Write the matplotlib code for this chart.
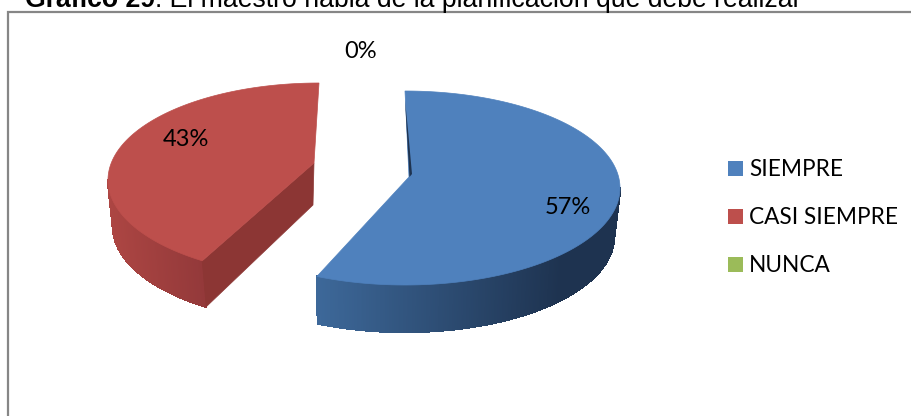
import numpy as np
import matplotlib
matplotlib.use("Agg")
import matplotlib.pyplot as plt
from matplotlib.collections import PolyCollection
from matplotlib.patches import Polygon, Rectangle

# Chart data
categories = ["SIEMPRE", "CASI SIEMPRE", "NUNCA"]
values = [57, 43, 0]
value_labels = ["57%", "43%", "0%"]
colors = ["#4f81bd", "#bd4f4c", "#9bbb59"]

title_bold = "Gráfico 29"
title_rest = ": El maestro habla de la planificación que debe realizar"


def rim(cx, cy, a, b, t0, t1, n=240):
    # t runs clockwise from the top of the ellipse, in degrees
    t = np.radians(np.linspace(t0, t1, n))
    return np.column_stack([cx + a * np.sin(t), cy - b * np.cos(t)])


def hex_rgb(c):
    return np.array(matplotlib.colors.to_rgb(c))


def draw_side(ax, pts, depth, c_left, c_right, x0, x1, dx0, dx1):
    # bottom rim is a bit narrower than the top one (perspective)
    dx = np.linspace(dx0, dx1, len(pts))
    quads = []
    cols = []
    for i in range(len(pts) - 1):
        p, q = pts[i], pts[i + 1]
        quads.append([p, q, q + [dx[i + 1], depth], p + [dx[i], depth]])
        f = np.clip((0.5 * (p[0] + q[0]) - x0) / (x1 - x0), 0, 1)
        cols.append((1 - f) * hex_rgb(c_left) + f * hex_rgb(c_right))
    ax.add_collection(PolyCollection(quads, facecolors=cols, edgecolors=cols, linewidths=1.0, antialiaseds=False))


fig = plt.figure(figsize=(9.12, 4.16), dpi=100)
ax = fig.add_axes([0, 0, 1, 1])
ax.set_xlim(0, 912)
ax.set_ylim(416, 0)
ax.axis("off")

# frame is cropped on the right and at the bottom
ax.plot([8.5, 8.5, 912], [416, 12, 12], color="#868686", lw=1.6, solid_joinstyle="miter")

t1 = fig.text(25 / 912, 1 - 7 / 416, title_bold, family="Liberation Sans", fontsize=19.2, fontweight="bold", va="baseline")
bold_end = t1.get_window_extent(fig.canvas.get_renderer()).x1
fig.text(bold_end / 912, 1 - 7 / 416, title_rest, family="Liberation Sans", fontsize=19.2, va="baseline")

end_angles = 360 * np.cumsum(values) / np.sum(values)
start_angles = np.concatenate([[0], end_angles[:-1]])

# ---- blue slice
blue_skew = -1.0
s0, s1 = start_angles[0], end_angles[0] + blue_skew
blue_rim = rim(405, 188, 215, 97, s0, s1)
blue_apex = np.array([[409, 177]])
front = rim(405, 188, 215, 97, 90, s1)
draw_side(ax, front, 47, "#3d6899", "#1e3350", 317, 560, -6, 1)
ax.add_patch(Polygon(np.vstack([blue_rim, blue_apex]), closed=True, fc=colors[0], ec=colors[0], lw=0.5))
ax.add_patch(Polygon([[405, 100], [409.5, 177], [412, 174], [408, 130]], closed=True, fc="#1e3350", ec="none"))

# ---- red slice, perspective moves its cut corner a little
red_skew = 8.4
s0, s1 = start_angles[1] + red_skew, end_angles[1]
red_rim = rim(319, 180, 211, 97, s0, s1)
red_apex = np.array([[314, 163]])
front = rim(319, 180, 211, 97, 270, s0)
draw_side(ax, front, 46, "#ad4643", "#93393a", 108, 204, 5, 4)
corner = red_rim[0]
ax.add_patch(Polygon([red_apex[0], [313, 205], corner + [4, 46], corner], closed=True, fc="#8c3634", ec="#8c3634", lw=0.5))
ax.add_patch(Polygon(np.vstack([red_rim, red_apex]), closed=True, fc=colors[1], ec=colors[1], lw=0.5))

# ---- data labels
label_pos = [(568, 208), (186, 140), (361, 51)]
for lab, (x, y) in zip(value_labels, label_pos):
    ax.text(x, y, lab, family="Lato", fontsize=17, ha="center", va="center", color="black")

# ---- legend
for i, (name, col) in enumerate(zip(categories, colors)):
    y = 161 + 48 * i
    ax.add_patch(Rectangle((728, y), 15, 15, fc=col, ec="none"))
    ax.text(749, y + 9, name, family="Lato", fontsize=16.3, ha="left", va="center", color="black")

fig.savefig("out.png", dpi=100)
